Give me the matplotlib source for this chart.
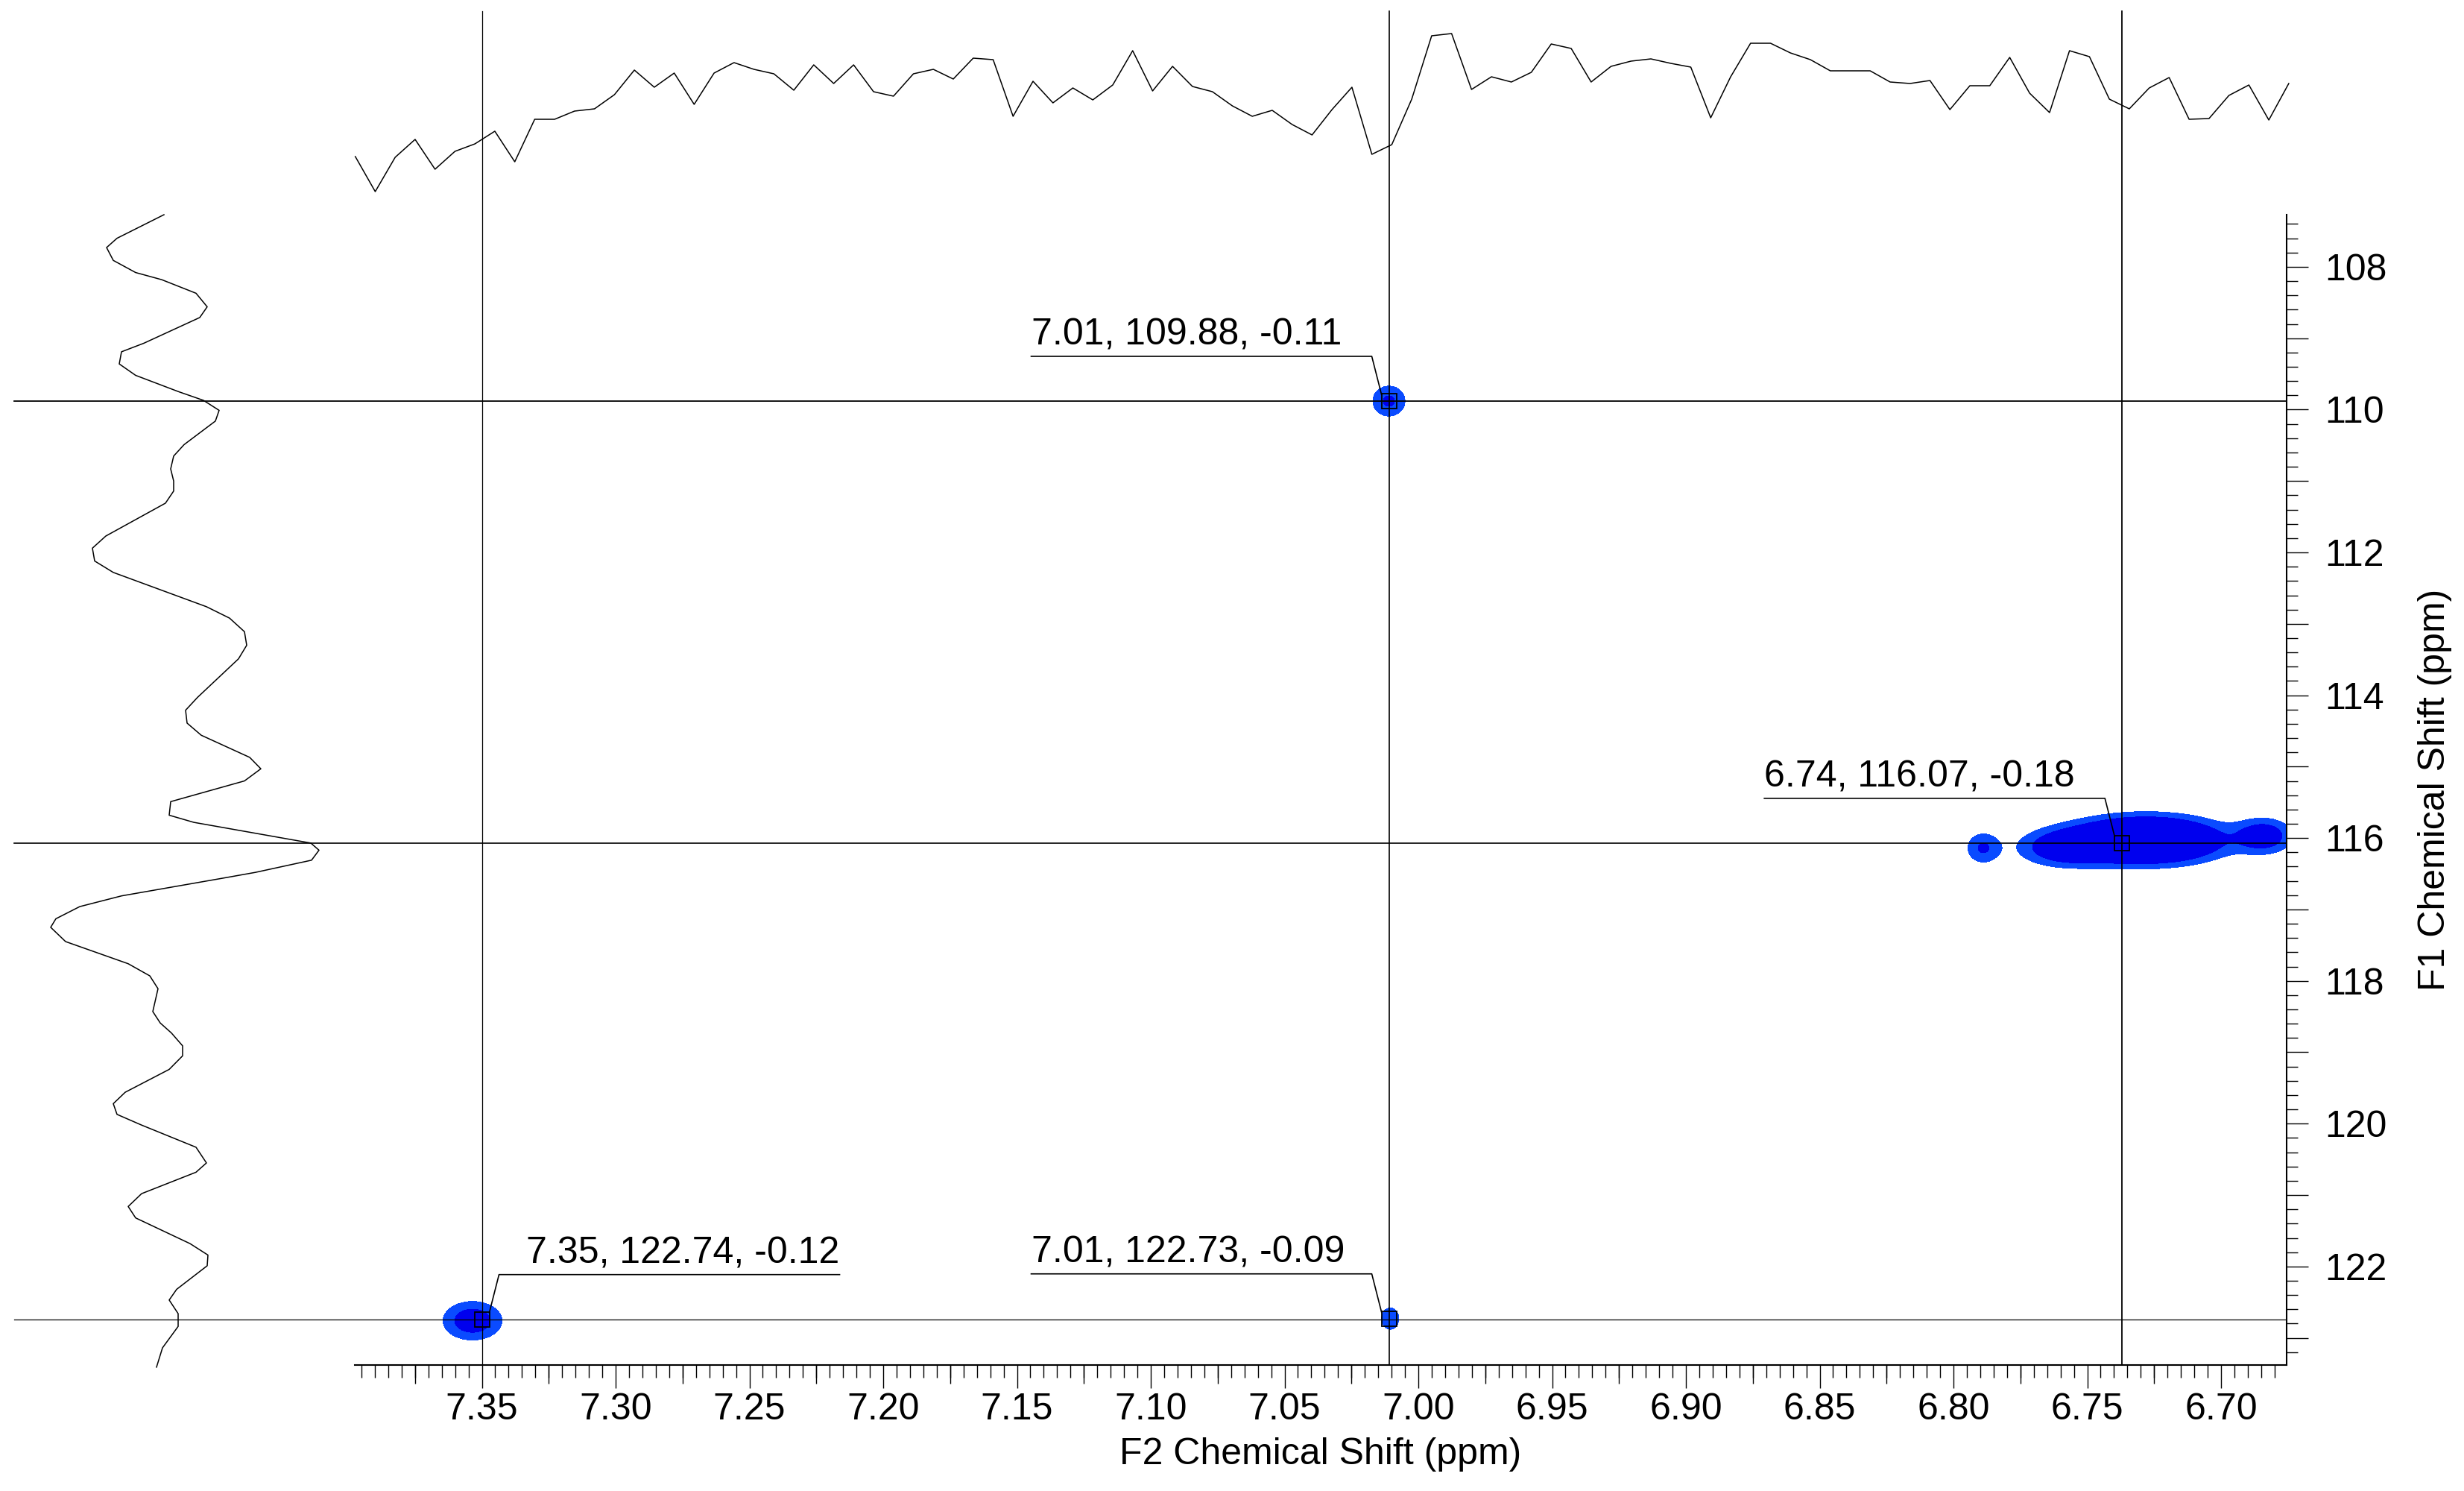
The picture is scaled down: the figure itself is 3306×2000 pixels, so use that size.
import numpy as np
import matplotlib
matplotlib.use("Agg")
import matplotlib.pyplot as plt
import matplotlib.transforms as mtransforms
from matplotlib.ticker import MultipleLocator, FuncFormatter, NullLocator

plt.rcParams['font.family'] = ['Liberation Sans', 'DejaVu Sans']

# ---- DATA ----
F2_LIM = (7.3975, 6.6755)   # ppm, reversed
F1_LIM = (123.38, 107.27)   # ppm, reversed

# F2 projection (top), regular ppm grid
top_f2_start, top_f2_end = 7.3973, 6.6747
top_trace = [50, 3, 49, 73, 33, 57, 67, 84, 43, 100,
             100, 111, 114, 133, 166, 143, 162, 120, 162, 176,
             167, 161, 139, 173, 148, 173, 137, 131, 161, 167,
             154, 182, 180, 104, 151, 122, 142, 126, 146, 192,
             138, 171, 144, 137, 118, 104, 112, 93,
             79, 113, 143, 53, 66, 127, 212, 215, 140, 157,
             150, 163, 201, 195, 150, 171, 178, 181, 175, 170,
             102, 157, 202, 202, 189, 180, 165, 165, 165, 150,
             148, 152, 113, 145, 145, 183, 135, 109, 192, 184,
             127, 114, 142, 156, 100, 101, 132, 146, 99, 148]

# F1 projection (left)
left_f1 = [107.27, 107.60, 107.73, 107.91, 108.08, 108.18, 108.37, 108.56, 108.71, 109.07,
           109.19, 109.36, 109.52, 109.75, 109.87, 110.01, 110.16, 110.49, 110.65, 110.83,
           111.00, 111.14, 111.31, 111.77, 111.94, 112.12, 112.28, 112.76, 112.92, 113.11,
           113.30, 113.49, 114.03, 114.21, 114.39, 114.56, 114.87, 115.03, 115.20, 115.49,
           115.68, 115.78, 116.07, 116.17, 116.31, 116.48, 116.56, 116.81, 116.96, 117.13,
           117.25, 117.45, 117.76, 117.93, 118.11, 118.43, 118.59, 118.73, 118.91, 119.05,
           119.24, 119.56, 119.72, 119.87, 120.02, 120.33, 120.55, 120.68, 120.98, 121.16,
           121.32, 121.68, 121.84, 121.99, 122.32, 122.47, 122.66, 122.84, 123.14, 123.41]
left_int = [220, 157, 143, 152, 182, 217, 263, 278, 268, 193,
            163, 160, 182, 240, 273, 294, 289, 247, 233, 229,
            233, 233, 222, 142, 124, 127, 152, 277, 308, 328,
            331, 320, 265, 249, 251, 270, 335, 350, 328, 229,
            227, 260, 417, 428, 418, 343, 300, 163, 107, 75,
            68, 88, 172, 201, 212, 205, 215, 230, 245, 245,
            227, 168, 152, 157, 190, 263, 277, 263, 190, 172,
            182, 255, 279, 278, 237, 227, 239, 239, 218, 210]

# cross peaks: centre F2, centre F1, outer half-width F2, outer half-width F1, height
pk_f2  = [7.3535, 7.011, 7.0105, 6.728, 6.758, 6.789, 6.684]
pk_f1  = [122.76, 109.88, 122.73, 116.03, 116.14, 116.14, 115.97]
pk_hw2 = [0.0110, 0.0060, 0.0032, 0.035, 0.017, 0.0055, 0.0105]
pk_hw1 = [0.27, 0.21, 0.15, 0.40, 0.25, 0.19, 0.24]
pk_amp = [2.95, 2.2, 1.9, 8.0, 3.0, 2.1, 3.0]

# picked peaks
pick_f2   = [7.35, 7.011, 6.737, 7.011]
pick_f1   = [122.74, 109.88, 116.07, 122.73]
pick_int  = [-0.12, -0.11, -0.18, -0.09]
pick_side = [1, -1, -1, -1]

# cursors
cursor_f2 = [7.35, 7.011, 6.737]
cursor_f1 = [109.88, 116.07, 122.74]
cursor_lw = [0.9, 1.2, 1.3]

# ---- FIGURE ----
W, H = 3306, 2000
fig = plt.figure(figsize=(W / 100, H / 100), dpi=100)

x0, x1, ytop, ybot = 476, 3068, 288, 1831
ax = fig.add_axes([x0 / W, (H - ybot) / H, (x1 - x0) / W, (ybot - ytop) / H])
axt = fig.add_axes([x0 / W, (H - ytop) / H, (x1 - x0) / W, ytop / H])
axl = fig.add_axes([0, (H - ybot) / H, x0 / W, (ybot - ytop) / H])

# ---- CONTOURS ----
xg = np.linspace(F2_LIM[1], F2_LIM[0], 2000)
yg = np.linspace(F1_LIM[1], F1_LIM[0], 1200)
X, Y = np.meshgrid(xg, yg)
Z = np.zeros_like(X)
for cx, cy, hx, hy, a in zip(pk_f2, pk_f1, pk_hw2, pk_hw1, pk_amp):
    k = np.sqrt(2 * np.log(a))
    Z += a * np.exp(-0.5 * (((X - cx) / (hx / k)) ** 2 + ((Y - cy) / (hy / k)) ** 2))
ax.contourf(X, Y, Z, levels=[1, 2, Z.max() + 1], colors=["#0a4bff", "#0000ee"], zorder=1)

# ---- CURSORS ----
for c, lw in zip(cursor_f2, cursor_lw):
    ax.axvline(c, color="k", lw=lw, zorder=3)
    axt.axvline(c, ymin=0, ymax=(ytop - 15) / ytop, color="k", lw=lw)
for c, lw in zip(cursor_f1, cursor_lw[::-1]):
    ax.axhline(c, color="k", lw=lw, zorder=3)
    axl.axhline(c, xmin=19 / x0, xmax=1, color="k", lw=lw)

# ---- PEAK LABELS ----
ax.plot(pick_f2, pick_f1, ls="none", marker="s", ms=13.7, mfc="none",
        mec="k", mew=1.3, zorder=5)
for f2, f1, val, s in zip(pick_f2, pick_f1, pick_int, pick_side):
    trans = mtransforms.IdentityTransform() + mtransforms.ScaledTranslation(f2, f1, ax.transData)
    ax.plot([s * 480, s * 23, s * 10], [60, 60, 9], transform=trans,
            color="k", lw=1.2, clip_on=False, zorder=5)
    ax.text(s * 480, 75, f"{f2:.2f}, {f1:.2f}, {val:.2f}", transform=trans,
            ha="right" if s > 0 else "left", va="baseline", fontsize=36)

# ---- AXES ----
ax.set_xlim(F2_LIM)
ax.set_ylim(F1_LIM)
for sp in ["top", "left"]:
    ax.spines[sp].set_visible(False)
for sp in ["bottom", "right"]:
    ax.spines[sp].set_linewidth(1.5)

ax.xaxis.set_major_locator(MultipleLocator(0.05))
ax.xaxis.set_minor_locator(MultipleLocator(0.005))
ax.xaxis.set_major_formatter(FuncFormatter(lambda v, p: f"{v:.2f}"))
ax.tick_params(axis="x", which="major", direction="out", length=22, width=1.0,
               labelsize=36, pad=5)
ax.tick_params(axis="x", which="minor", direction="out", length=12, width=1.0)

secax = ax.secondary_xaxis("bottom")
secax.set_xticks(np.arange(7.375, 6.67, -0.05))
secax.xaxis.set_minor_locator(NullLocator())
secax.tick_params(which="major", direction="out", length=18, width=1.0, labelbottom=False)
secax.spines["bottom"].set_visible(False)

ax.yaxis.tick_right()
ax.yaxis.set_label_position("right")
ax.yaxis.set_major_locator(MultipleLocator(1))
ax.yaxis.set_minor_locator(MultipleLocator(0.2))
ax.yaxis.set_major_formatter(FuncFormatter(lambda v, p: f"{v:.0f}" if round(v) % 2 == 0 else ""))
ax.tick_params(axis="y", which="major", direction="out", length=21, width=1.0,
               labelsize=36, pad=16)
ax.tick_params(axis="y", which="minor", direction="out", length=11, width=1.0)

ax.set_xlabel("F2 Chemical Shift (ppm)", fontsize=36, labelpad=10)
ax.set_ylabel("F1 Chemical Shift (ppm)", fontsize=36, labelpad=30, rotation=90)

# ---- PROJECTIONS ----
top_f2 = np.linspace(top_f2_start, top_f2_end, len(top_trace))
axt.plot(top_f2, top_trace, color="k", lw=1.1, clip_on=False)
axt.set_xlim(F2_LIM)
axt.set_ylim(-28, 260)
axt.axis("off")

axl.plot(left_int, left_f1, color="k", lw=1.1, clip_on=False)
axl.set_xlim(0, x0)
axl.set_ylim(F1_LIM)
axl.axis("off")

fig.savefig("out.png", dpi=100)
